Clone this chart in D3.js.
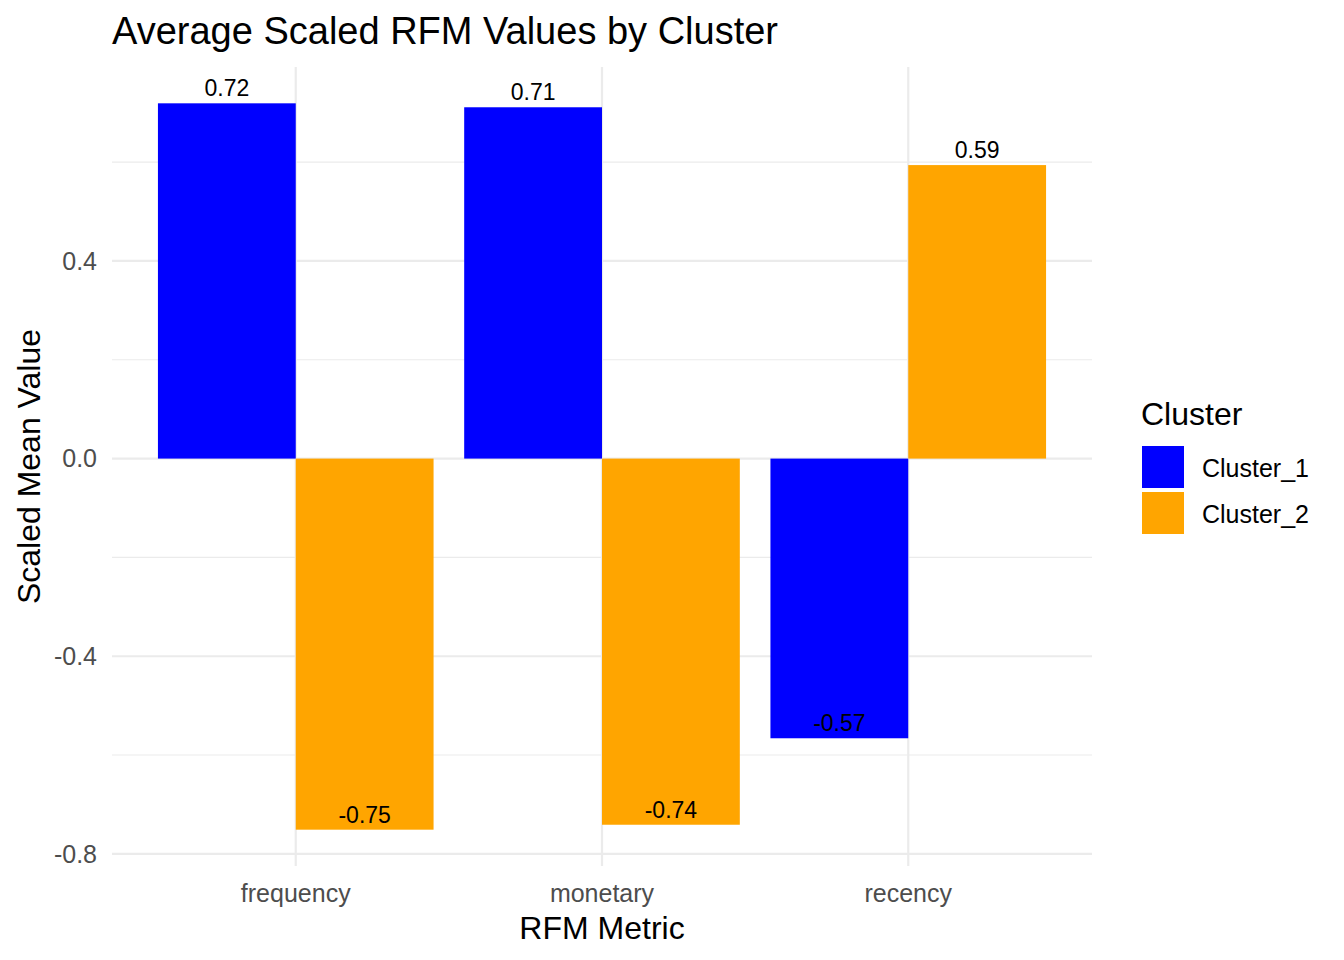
<!DOCTYPE html>
<html>
<head>
<meta charset="utf-8">
<script src="https://cdn.jsdelivr.net/npm/d3@7"></script>
<style>
  body { margin: 0; background: #fff; }
  text { font-family: "Liberation Sans", Arial, sans-serif; }
</style>
</head>
<body>
<div id="chart"></div>
<script>
// data
const metrics = ["frequency", "monetary", "recency"];
const clusters = ["Cluster_1", "Cluster_2"];
const cluster1 = [0.719, 0.711, -0.566];
const cluster2 = [-0.751, -0.741, 0.594];
const yTicks = [-0.8, -0.4, 0.0, 0.4];
const yMinor = [-0.6, -0.2, 0.2, 0.6];
const colors = ["#0000FF", "#FFA500"];

const rows = [];
metrics.forEach((m, i) => {
    rows.push({ metric: m, cluster: clusters[0], value: cluster1[i] });
    rows.push({ metric: m, cluster: clusters[1], value: cluster2[i] });
});

const width = 1344, height = 960;
const margin = { top: 67, right: 252, bottom: 94, left: 112 };

const svg = d3.select("#chart")
    .append("svg")
    .attr("width", width)
    .attr("height", height);

// ggplot style: 0.6 unit padding on discrete axis
const x = d3.scalePoint()
    .domain(metrics)
    .range([margin.left, width - margin.right])
    .padding(0.6);
const step = x.step();
const barW = step * 0.9 / 2;

const yMinV = d3.min(rows, d => d.value), yMaxV = d3.max(rows, d => d.value);
const pad = (yMaxV - yMinV) * 0.05;
const y = d3.scaleLinear()
    .domain([yMinV - pad, yMaxV + pad])
    .range([height - margin.bottom, margin.top]);

// Grid
const grid = svg.append("g");
grid.selectAll(".minor")
    .data(yMinor)
    .enter().append("line")
    .attr("x1", margin.left).attr("x2", width - margin.right)
    .attr("y1", d => y(d)).attr("y2", d => y(d))
    .attr("stroke", "#EBEBEB").attr("stroke-width", 1.1);
grid.selectAll(".major")
    .data(yTicks)
    .enter().append("line")
    .attr("x1", margin.left).attr("x2", width - margin.right)
    .attr("y1", d => y(d)).attr("y2", d => y(d))
    .attr("stroke", "#EBEBEB").attr("stroke-width", 2.2);
grid.selectAll(".vmajor")
    .data(metrics)
    .enter().append("line")
    .attr("x1", d => x(d)).attr("x2", d => x(d))
    .attr("y1", margin.top).attr("y2", height - margin.bottom)
    .attr("stroke", "#EBEBEB").attr("stroke-width", 2.2);

// Bars
const off = d => clusters.indexOf(d.cluster) === 0 ? -barW : 0;
svg.append("g")
    .selectAll("rect")
    .data(rows)
    .enter().append("rect")
    .attr("x", d => x(d.metric) + off(d))
    .attr("y", d => Math.min(y(d.value), y(0)))
    .attr("width", barW)
    .attr("height", d => Math.abs(y(d.value) - y(0)))
    .attr("fill", d => colors[clusters.indexOf(d.cluster)]);

// Value labels (vjust -0.5, above the value point)
svg.append("g")
    .selectAll("text")
    .data(rows)
    .enter().append("text")
    .attr("x", d => x(d.metric) + off(d) + barW / 2)
    .attr("y", d => y(d.value) - 7)
    .attr("text-anchor", "middle")
    .style("font-size", "23px")
    .attr("fill", "#000")
    .text(d => d.value.toFixed(2));

// Y axis tick labels
svg.append("g")
    .selectAll("text")
    .data(yTicks)
    .enter().append("text")
    .attr("x", margin.left - 15)
    .attr("y", d => y(d))
    .attr("dy", "0.35em")
    .attr("text-anchor", "end")
    .style("font-size", "25px")
    .attr("fill", "#4D4D4D")
    .text(d => d.toFixed(1));

// X axis tick labels
svg.append("g")
    .selectAll("text")
    .data(metrics)
    .enter().append("text")
    .attr("x", d => x(d))
    .attr("y", height - margin.bottom + 36)
    .attr("text-anchor", "middle")
    .style("font-size", "25px")
    .attr("fill", "#4D4D4D")
    .text(d => d);

// Axis titles
svg.append("text")
    .attr("x", (margin.left + width - margin.right) / 2)
    .attr("y", 939)
    .attr("text-anchor", "middle")
    .style("font-size", "32px")
    .text("RFM Metric");

svg.append("text")
    .attr("transform", "rotate(-90)")
    .attr("x", -(margin.top + height - margin.bottom) / 2)
    .attr("y", 40)
    .attr("text-anchor", "middle")
    .style("font-size", "32px")
    .text("Scaled Mean Value");

// Title
svg.append("text")
    .attr("x", margin.left)
    .attr("y", 44)
    .style("font-size", "38px")
    .text("Average Scaled RFM Values by Cluster");

// Legend
const legend = svg.append("g").attr("transform", "translate(1141,0)");
legend.append("text")
    .attr("x", 0).attr("y", 425)
    .style("font-size", "32px")
    .text("Cluster");
clusters.forEach((c, i) => {
    legend.append("rect")
        .attr("x", 1).attr("y", 446 + i * 46)
        .attr("width", 42).attr("height", 42)
        .attr("fill", colors[i]);
    legend.append("text")
        .attr("x", 61).attr("y", 468 + i * 46)
        .attr("dy", "0.35em")
        .style("font-size", "25px")
        .text(c);
});
</script>
</body>
</html>
